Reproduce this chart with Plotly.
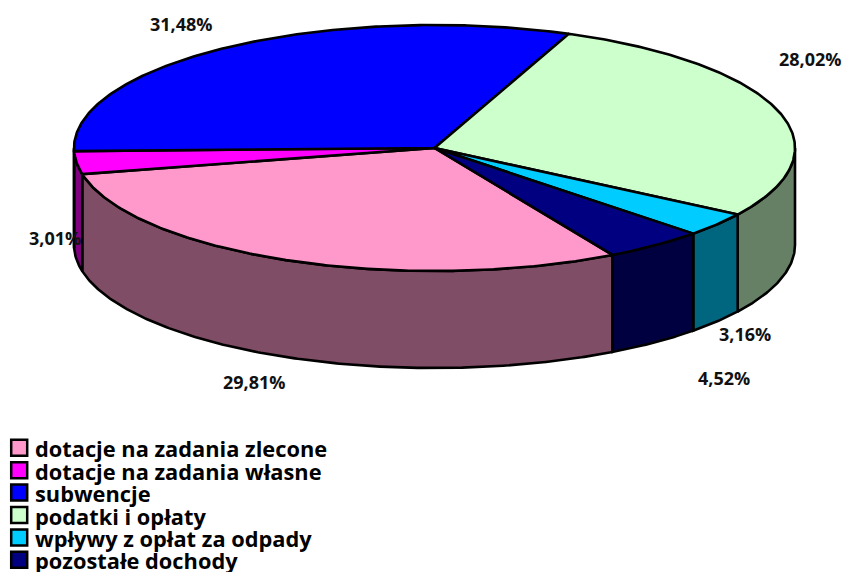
import numpy as np
import plotly.graph_objects as go

# --- data ---
categories = ["dotacje na zadania zlecone", "dotacje na zadania własne", "subwencje",
              "podatki i opłaty", "wpływy z opłat za odpady", "pozostałe dochody"]
values = [29.81, 3.01, 31.48, 28.02, 3.16, 4.52]

# --- style ---
top_colors = ["#FF99CC", "#FF00FF", "#0000FF", "#CCFFCC", "#00CCFF", "#000080"]
wall_colors = ["#804D66", "#800080", "#000080", "#668066", "#006680", "#000040"]

# --- layout of the tilted pie (page pixels) ---
W, H = 843, 572
CX, CY, RX, RY, DEPTH = 434.5, 148, 360.5, 123, 97
START_DEG = 60.4
LINE = dict(color="black", width=2.6)
label_xy = [(254, 382), (55, 238), (181, 24), (810, 59), (745, 334), (724, 378)]
LEG_TOP, LEG_STEP = 447.8, 22.4
LEG_TEXT_SHIFT = 1


def arc(a, b):
    t = np.radians(np.linspace(a, b, max(int(abs(b - a) * 2), 2)))
    return CX + RX * np.cos(t), CY + RY * np.sin(t)


fig = go.Figure()
spans = 360.0 * np.array(values) / sum(values)
edges = START_DEG + np.concatenate([[0], np.cumsum(spans)])


def poly(x, y, color):
    fig.add_trace(go.Scatter(x=list(x), y=list(y), mode="lines", fill="toself",
                             fillcolor=color, line=LINE, hoverinfo="skip", showlegend=False))


# rim walls: only the near half (0..180 deg, modulo 360) is visible
for i in range(len(values)):
    a, b = edges[i], edges[i + 1]
    for lo, hi in ((0, 180), (360, 540)):
        s, e = max(a, lo), min(b, hi)
        if e > s:
            x, y = arc(s, e)
            poly(np.r_[x, x[::-1], x[0]], np.r_[y, y[::-1] + DEPTH, y[0]], wall_colors[i])

# top faces
for i in range(len(values)):
    x, y = arc(edges[i], edges[i + 1])
    poly(np.r_[CX, x, CX], np.r_[CY, y, CY], top_colors[i])

annotations = []
for (lx, ly), v in zip(label_xy, values):
    annotations.append(dict(x=lx, y=ly, text=f"{v:.2f}%".replace(".", ","), showarrow=False,
                            xanchor="center", yanchor="middle",
                            font=dict(family="Open Sans", size=18, color="#111111", weight="bold")))

# legend
ys = [LEG_TOP + LEG_STEP * i for i in range(len(categories))]
fig.add_trace(go.Scatter(x=[19.2] * len(ys), y=ys, mode="markers", hoverinfo="skip", showlegend=False,
                         marker=dict(symbol="square", size=16, color=top_colors,
                                     line=dict(color="black", width=2.5))))
for name, y in zip(categories, ys):
    annotations.append(dict(x=33, y=y + LEG_TEXT_SHIFT, text=name, showarrow=False, xanchor="left",
                            yanchor="middle",
                            font=dict(family="Open Sans", size=21.8, color="black", weight="bold")))

fig.update_layout(width=W, height=H, margin=dict(l=0, r=0, t=0, b=0),
                  paper_bgcolor="white", plot_bgcolor="white", showlegend=False,
                  xaxis=dict(range=[0, W], visible=False, fixedrange=True),
                  yaxis=dict(range=[H, 0], visible=False, fixedrange=True),
                  annotations=annotations)
fig.write_html("out.html", post_script="document.body.style.margin='0';", config=dict(displayModeBar=False))
